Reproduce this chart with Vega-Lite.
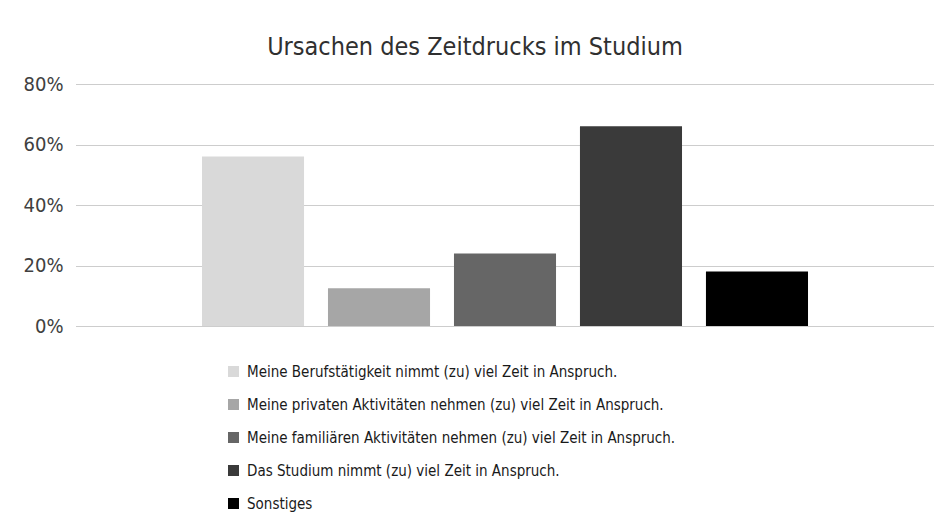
{
  "$schema": "https://vega.github.io/schema/vega-lite/v6.json",
  "autosize": "none",
  "width": 858,
  "height": 242,
  "padding": {"left": 76, "top": 84, "right": 16, "bottom": 205},
  "background": "white",
  "title": {
    "text": "Ursachen des Zeitdrucks im Studium",
    "font": "DejaVu Sans Condensed, sans-serif",
    "fontSize": 25,
    "fontWeight": "normal",
    "color": "#303030",
    "anchor": "middle",
    "dx": -30,
    "offset": 14
  },
  "data": {
    "values": [
      {"cause": "Meine Berufstätigkeit nimmt (zu) viel Zeit in Anspruch.", "pct": 56},
      {"cause": "Meine privaten Aktivitäten nehmen (zu) viel Zeit in Anspruch.", "pct": 12.5},
      {"cause": "Meine familiären Aktivitäten nehmen (zu) viel Zeit in Anspruch.", "pct": 24},
      {"cause": "Das Studium nimmt (zu) viel Zeit in Anspruch.", "pct": 66},
      {"cause": "Sonstiges", "pct": 18}
    ]
  },
  "mark": {"type": "bar"},
  "encoding": {
    "x": {
      "field": "cause",
      "type": "nominal",
      "sort": null,
      "scale": {"paddingInner": 0.19, "paddingOuter": 1.0},
      "axis": null
    },
    "y": {
      "field": "pct",
      "type": "quantitative",
      "scale": {"domain": [0, 80], "nice": false},
      "axis": {
        "title": null,
        "values": [0, 20, 40, 60, 80],
        "labelExpr": "datum.value + '%'",
        "domain": false,
        "ticks": false,
        "labelPadding": 13,
        "labelFont": "DejaVu Sans Condensed, sans-serif",
        "labelFontSize": 20,
        "labelColor": "#404040",
        "grid": true,
        "gridColor": "#9a9a9a",
        "gridDash": [1, 1],
        "gridWidth": 1
      }
    },
    "color": {
      "field": "cause",
      "type": "nominal",
      "sort": null,
      "scale": {"range": ["#d9d9d9", "#a6a6a6", "#666666", "#3a3a3a", "#000000"]},
      "legend": {
        "title": null,
        "orient": "none",
        "legendX": 150,
        "legendY": 280,
        "direction": "vertical",
        "symbolType": "square",
        "symbolSize": 121,
        "symbolStrokeWidth": 0,
        "labelFont": "DejaVu Sans Condensed, sans-serif",
        "labelFontSize": 15,
        "labelColor": "#1a1a1a",
        "labelOffset": 6,
        "rowPadding": 17,
        "labelLimit": 600
      }
    }
  },
  "config": {"view": {"stroke": null}}
}
